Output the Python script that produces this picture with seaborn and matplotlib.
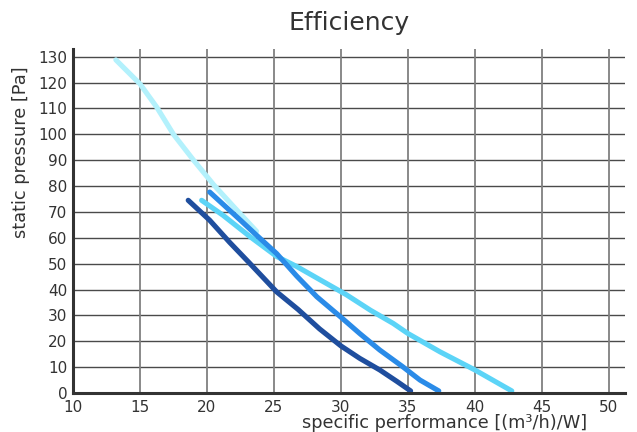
import matplotlib
matplotlib.use("Agg")
import matplotlib.pyplot as plt
import seaborn as sns
import pandas as pd

# ---- data ----
s1_x = [13.2, 15.0, 16.25, 17.5, 19.0, 20.5, 22.0, 23.7]
s1_y = [128.8, 119.5, 110.5, 100.0, 90.0, 80.5, 72.0, 62.5]

s2_x = [19.6, 21.2, 23.2, 25.2, 26.7, 28.7, 30.4, 32.2, 33.9, 35.0, 37.4, 40.0, 42.75]
s2_y = [74.5, 68.7, 60.5, 52.8, 48.9, 43.0, 38.0, 32.0, 26.9, 23.0, 15.9, 8.9, 0.8]

s3_x = [20.2, 22.5, 23.7, 25.2, 26.7, 28.2, 30.0, 31.4, 32.9, 34.6, 35.9, 37.3]
s3_y = [77.7, 66.8, 61.0, 53.9, 45.2, 37.2, 29.3, 23.0, 16.6, 10.2, 5.0, 0.8]

s4_x = [18.6, 20.2, 21.7, 23.2, 25.2, 26.8, 28.4, 30.0, 31.4, 32.9, 34.2, 35.2]
s4_y = [74.5, 66.8, 58.2, 50.1, 39.1, 32.3, 24.8, 18.2, 13.4, 8.9, 4.4, 0.8]

series_names = ["s1", "s2", "s3", "s4"]
series_colors = ["#b3f1fc", "#5cd4f7", "#2a8be8", "#1f4e9e"]

x_ticks = [10, 15, 20, 25, 30, 35, 40, 45, 50]
y_ticks = list(range(0, 131, 10))

title = "Efficiency"
x_label = "specific performance [(m³/h)/W]"
y_label = "static pressure [Pa]"

rows = []
for name, xs, ys in zip(series_names, [s1_x, s2_x, s3_x, s4_x], [s1_y, s2_y, s3_y, s4_y]):
    for i, (a, b) in enumerate(zip(xs, ys)):
        rows.append({"series": name, "x": a, "y": b, "order": i})
df = pd.DataFrame(rows)

sns.set_theme(style="white")
plt.rcParams["font.family"] = ["DejaVu Sans"]

fig = plt.figure(figsize=(6.37, 4.32), dpi=100)
ax = fig.add_axes([73 / 637, 1 - 393 / 432, (625 - 73) / 637, (393 - 49) / 432])

ax.set_xlim(10, 51.2)
ax.set_ylim(0, 133)
ax.set_xticks(x_ticks)
ax.set_yticks(y_ticks)

for t in y_ticks[1:]:
    ax.axhline(t, color="#4a4a4a", lw=1.0, zorder=1)
for t in x_ticks[1:]:
    ax.axvline(t, color="#808080", lw=1.3, zorder=1)

sns.lineplot(data=df, x="x", y="y", hue="series", palette=series_colors,
             hue_order=series_names, sort=False, estimator=None, units="series",
             lw=3.7, legend=False, ax=ax, zorder=3,
             solid_capstyle="round", solid_joinstyle="round")

for sp in ["top", "right"]:
    ax.spines[sp].set_visible(False)
for sp in ["left", "bottom"]:
    ax.spines[sp].set_color("#333333")
    ax.spines[sp].set_linewidth(2.2)
    ax.spines[sp].set_zorder(4)

ax.tick_params(axis="both", length=0, labelsize=11, colors="#333333", pad=4)
ax.tick_params(axis="x", pad=5)

ax.set_title(title, fontsize=18, color="#333333", pad=14)
ax.set_xlabel(x_label, fontsize=12.8, color="#333333")
ax.set_ylabel(y_label, fontsize=12.8, color="#333333")
ax.xaxis.set_label_coords(0.674, -0.062)
ax.yaxis.set_label_coords(-0.078, 0.70)

fig.savefig("out.png", dpi=100)
